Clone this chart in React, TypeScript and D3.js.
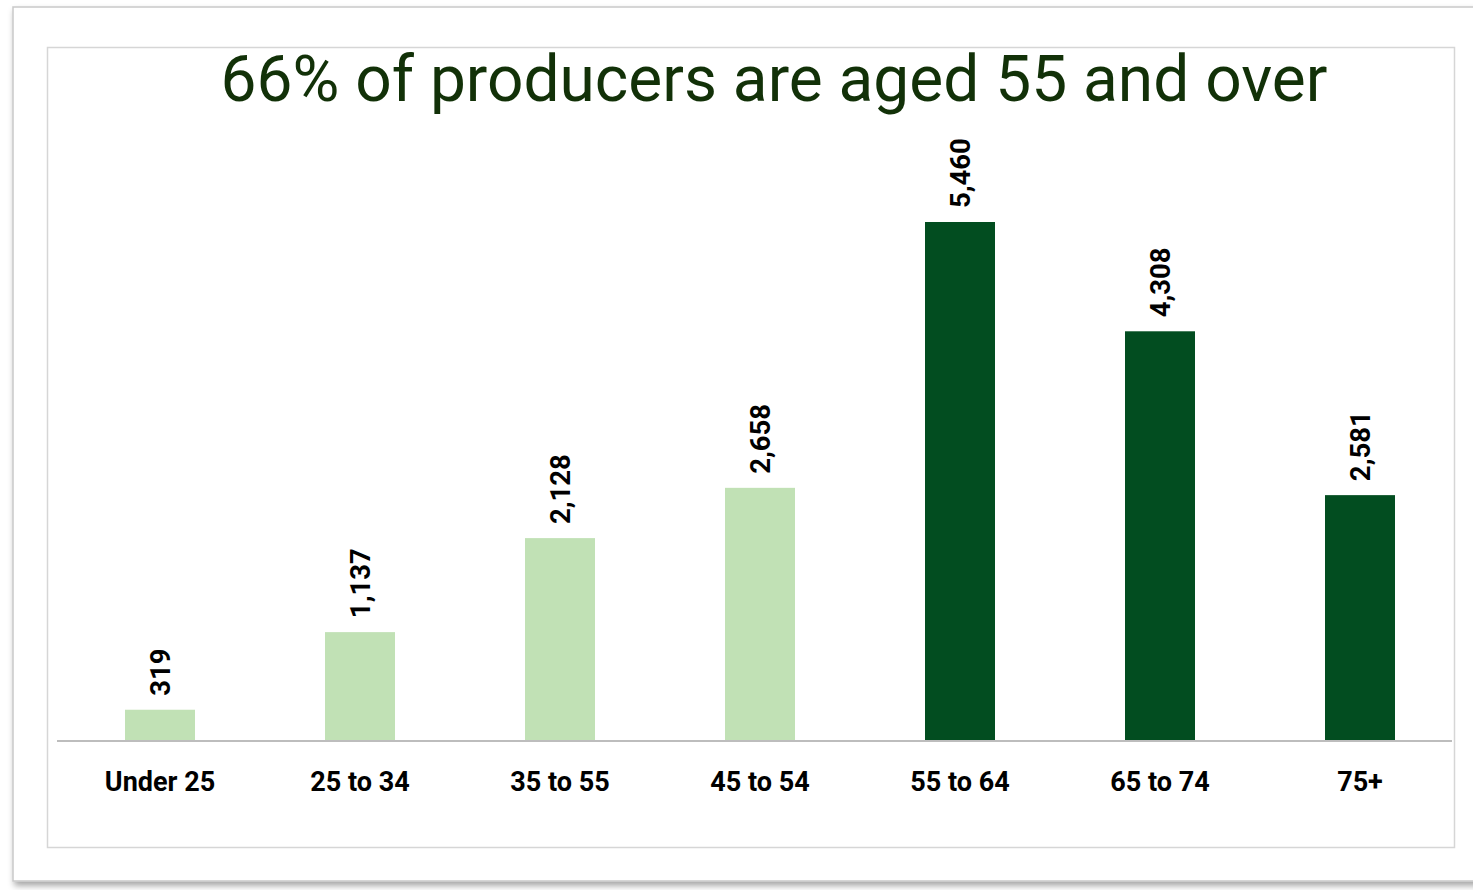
import React, { useRef, useEffect } from 'react';
import * as d3 from 'd3';

const categories = ['Under 25', '25 to 34', '35 to 55', '45 to 54', '55 to 64', '65 to 74', '75+'];
const producers = [319, 1137, 2128, 2658, 5460, 4308, 2581];
const over55 = [false, false, false, false, true, true, true];

const title = '66% of producers are aged 55 and over';

const App: React.FC = () => {
  const svgRef = useRef<SVGSVGElement>(null);
  const width = 1473;
  const height = 890;

  useEffect(() => {
    if (!svgRef.current) return;
    const svg = d3.select(svgRef.current);
    svg.selectAll('*').remove();

    const defs = svg.append('defs');
    const shadow = defs.append('filter').attr('id', 'shadow')
      .attr('x', '-5%').attr('y', '-5%').attr('width', '110%').attr('height', '110%');
    shadow.append('feDropShadow')
      .attr('dx', 2).attr('dy', 4).attr('stdDeviation', 3)
      .attr('flood-color', '#000').attr('flood-opacity', 0.35);

    // outer card
    svg.append('rect')
      .attr('x', 13).attr('y', 7).attr('width', 1466).attr('height', 874)
      .attr('fill', '#fff').attr('stroke', '#c9c9c9').attr('stroke-width', 1.5)
      .attr('filter', 'url(#shadow)');

    // inner chart area
    svg.append('rect')
      .attr('x', 47.5).attr('y', 47.5).attr('width', 1407).attr('height', 800)
      .attr('fill', '#fff').attr('stroke', '#d6d6d6').attr('stroke-width', 1.5);

    svg.append('text')
      .attr('x', 774).attr('y', 101)
      .attr('text-anchor', 'middle')
      .attr('font-family', 'Roboto, sans-serif')
      .attr('font-size', 64)
      .attr('fill', '#123108')
      .text(title);

    const baseline = 740;
    const x = d3.scaleBand<string>()
      .domain(categories)
      .range([60, 1460])
      .paddingInner(0.65)
      .paddingOuter(0.325);

    const y = d3.scaleLinear()
      .domain([0, 5460])
      .range([baseline, 222]);

    const g = svg.append('g');

    g.selectAll('rect.bar')
      .data(categories)
      .enter()
      .append('rect')
      .attr('class', 'bar')
      .attr('x', d => x(d)!)
      .attr('width', x.bandwidth())
      .attr('y', (_, i) => y(producers[i]))
      .attr('height', (_, i) => baseline - y(producers[i]))
      .attr('fill', (_, i) => (over55[i] ? '#024d20' : '#c1e1b5'));

    // axis line
    g.append('line')
      .attr('x1', 57).attr('x2', 1452)
      .attr('y1', baseline + 1).attr('y2', baseline + 1)
      .attr('stroke', '#bdbdbd').attr('stroke-width', 2);

    // value labels, rotated
    g.selectAll('text.value')
      .data(categories)
      .enter()
      .append('text')
      .attr('class', 'value')
      .attr('transform', (d, i) => {
        const cx = x(d)! + x.bandwidth() / 2;
        const ty = y(producers[i]) - 14;
        return `translate(${cx + 9.5},${ty}) rotate(-90)`;
      })
      .attr('text-anchor', 'start')
      .attr('font-family', 'Roboto, sans-serif')
      .attr('font-weight', 'bold')
      .attr('font-size', 27.5)
      .attr('fill', '#000')
      .text((_, i) => d3.format(',')(producers[i]));

    // category labels
    g.selectAll('text.cat')
      .data(categories)
      .enter()
      .append('text')
      .attr('class', 'cat')
      .attr('x', d => x(d)! + x.bandwidth() / 2)
      .attr('y', 791)
      .attr('text-anchor', 'middle')
      .attr('font-family', 'Roboto, sans-serif')
      .attr('font-weight', 'bold')
      .attr('font-size', 27)
      .attr('fill', '#000')
      .text(d => d);
  }, []);

  return (
    <svg
      ref={svgRef}
      width={width}
      height={height}
      style={{ position: 'absolute', left: 0, top: 0 }}
    />
  );
};

export default App;
